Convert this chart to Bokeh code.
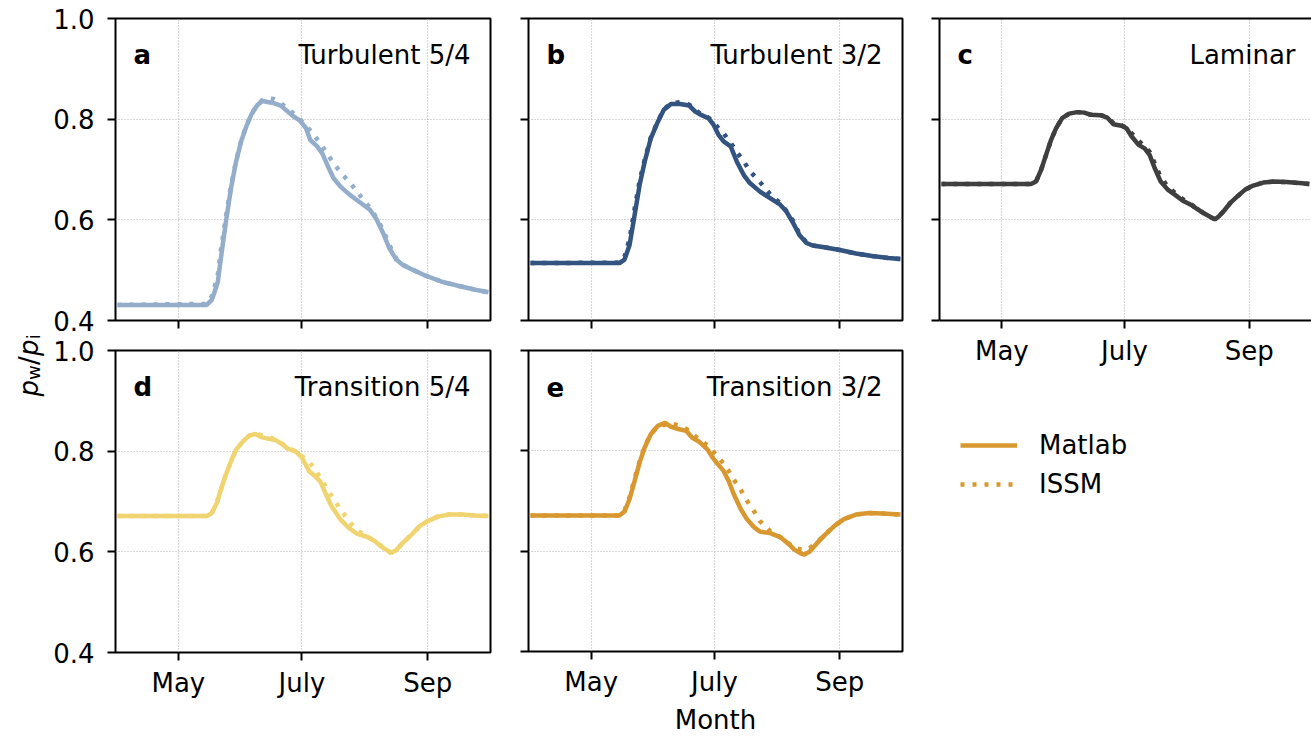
from math import pi

from bokeh.embed import file_html
from bokeh.layouts import column, row
from bokeh.models import FixedTicker, Label, Legend, LegendItem, LinearAxis, Range1d
from bokeh.plotting import figure
from bokeh.resources import INLINE

# ---------------------------------------------------------------- data
# time axis: day of year (non-leap), April to September
month_ticks = [121, 182, 244]
month_labels = ["May", "July", "Sep"]
value_ticks = [0.4, 0.6, 0.8, 1.0]
value_labels = ["0.4", "0.6", "0.8", "1.0"]

# a: Turbulent 5/4
days_a = [91, 135, 137.5, 139, 140.5, 142, 144.5, 147, 149.5, 152, 154.5, 157, 160,
          162.5, 165, 168, 171.5, 175, 178, 181, 184, 186, 189.5, 192, 194.5, 197.5,
          201, 205.5, 210.5, 215.5, 218.5, 222, 225, 228.5, 231.5, 236.5, 243, 251,
          259, 267.5, 274]
matlab_a = [0.431, 0.431, 0.441, 0.458, 0.477, 0.524, 0.597, 0.663, 0.716, 0.756, 0.785,
            0.809, 0.828, 0.836, 0.834, 0.832, 0.827, 0.815, 0.805, 0.797, 0.782, 0.759,
            0.746, 0.732, 0.709, 0.683, 0.666, 0.650, 0.635, 0.620, 0.603, 0.574, 0.544,
            0.521, 0.511, 0.501, 0.489, 0.477, 0.469, 0.461, 0.456]
issm_a = [0.431, 0.433, 0.448, 0.468, 0.492, 0.540, 0.607, 0.668, 0.718, 0.757, 0.787,
          0.810, 0.829, 0.838, 0.841, 0.840, 0.832, 0.820, 0.811, 0.800, 0.787, 0.778,
          0.760, 0.746, 0.731, 0.713, 0.694, 0.675, 0.649, 0.624, 0.606, 0.580, 0.551,
          0.523, 0.511, 0.501, 0.489, 0.477, 0.469, 0.461, 0.456]

# b: Turbulent 3/2
days_b = [91, 135, 137.5, 140, 142.5, 145, 147.5, 150.5, 154, 157, 160.5, 165, 169.5,
          172.5, 175, 179, 181.5, 184, 186.5, 190, 193, 196.5, 199.5, 204.5, 209.5,
          214.5, 217.5, 221, 224, 227.5, 230.5, 235.5, 244, 252, 260, 268, 274]
matlab_b = [0.514, 0.514, 0.521, 0.550, 0.610, 0.670, 0.716, 0.762, 0.795, 0.819, 0.830,
            0.830, 0.827, 0.815, 0.809, 0.802, 0.789, 0.769, 0.756, 0.746, 0.716, 0.689,
            0.673, 0.656, 0.643, 0.630, 0.617, 0.593, 0.570, 0.554, 0.549, 0.546, 0.540,
            0.533, 0.528, 0.524, 0.522]
issm_b = [0.514, 0.515, 0.527, 0.562, 0.622, 0.678, 0.720, 0.764, 0.796, 0.820, 0.831,
          0.834, 0.829, 0.818, 0.811, 0.803, 0.794, 0.782, 0.772, 0.753, 0.735, 0.716,
          0.697, 0.675, 0.651, 0.633, 0.618, 0.597, 0.572, 0.555, 0.549, 0.546, 0.540,
          0.533, 0.528, 0.524, 0.522]

# c: Laminar
days_c = [91, 135.5, 138, 140.5, 143, 145.5, 148, 151, 154.5, 158.5, 162, 165, 170,
          173.5, 176.5, 180.5, 183, 185.5, 189, 192, 194.5, 197, 200, 203.5, 207, 211,
          215, 218, 221.5, 225, 227, 229, 231.5, 234.5, 238, 242, 246, 251, 256, 262.5,
          269, 274]
matlab_c = [0.671, 0.671, 0.676, 0.699, 0.729, 0.759, 0.782, 0.802, 0.811, 0.814, 0.813,
            0.809, 0.808, 0.803, 0.790, 0.787, 0.782, 0.766, 0.749, 0.742, 0.729, 0.703,
            0.676, 0.660, 0.650, 0.638, 0.630, 0.622, 0.613, 0.605, 0.601, 0.607, 0.618,
            0.633, 0.646, 0.660, 0.668, 0.674, 0.676, 0.675, 0.673, 0.671]
issm_c = [0.671, 0.671, 0.676, 0.699, 0.729, 0.759, 0.782, 0.802, 0.811, 0.814, 0.813,
          0.809, 0.808, 0.804, 0.792, 0.788, 0.783, 0.772, 0.757, 0.746, 0.735, 0.712,
          0.685, 0.666, 0.654, 0.641, 0.631, 0.622, 0.613, 0.605, 0.601, 0.607, 0.618,
          0.633, 0.646, 0.660, 0.668, 0.674, 0.676, 0.675, 0.673, 0.671]

# d: Transition 5/4
days_d = [91, 135, 137.5, 140, 142, 144.5, 147, 149.5, 153, 156, 159, 162, 165, 169,
          172.5, 175, 179, 182, 185.5, 188.5, 191, 193.5, 196.5, 201, 205, 209, 214, 218,
          222, 226, 228.5, 231.5, 236, 240, 244, 249, 254.5, 261, 267.5, 274]
matlab_d = [0.671, 0.671, 0.677, 0.697, 0.724, 0.754, 0.780, 0.803, 0.820, 0.831, 0.834,
            0.828, 0.825, 0.822, 0.813, 0.805, 0.799, 0.787, 0.760, 0.750, 0.740, 0.717,
            0.691, 0.664, 0.648, 0.636, 0.630, 0.621, 0.608, 0.598, 0.603, 0.617, 0.634,
            0.651, 0.661, 0.670, 0.674, 0.674, 0.672, 0.671]
issm_d = [0.671, 0.671, 0.677, 0.697, 0.724, 0.754, 0.780, 0.803, 0.820, 0.831, 0.834,
          0.832, 0.829, 0.823, 0.814, 0.806, 0.800, 0.790, 0.779, 0.763, 0.748, 0.731,
          0.712, 0.684, 0.662, 0.643, 0.631, 0.621, 0.608, 0.598, 0.603, 0.617, 0.634,
          0.651, 0.661, 0.670, 0.674, 0.674, 0.672, 0.671]

# e: Transition 3/2
days_e = [91, 135, 137.5, 140, 142.5, 145, 147.5, 150.5, 154, 157.5, 160.5, 164.5, 168,
          171, 174.5, 178.5, 181, 183.5, 186.5, 189, 191.5, 195, 198, 201.5, 204.5,
          209.5, 214.5, 218.5, 221.5, 225, 226.5, 229, 232.5, 236.5, 241.5, 246, 252,
          258.5, 265, 274]
matlab_e = [0.671, 0.671, 0.679, 0.704, 0.740, 0.777, 0.807, 0.833, 0.850, 0.856, 0.848,
            0.843, 0.840, 0.826, 0.818, 0.803, 0.787, 0.774, 0.760, 0.740, 0.714, 0.684,
            0.664, 0.648, 0.639, 0.636, 0.628, 0.615, 0.603, 0.595, 0.593, 0.599, 0.615,
            0.632, 0.651, 0.664, 0.673, 0.676, 0.675, 0.673]
issm_e = [0.671, 0.671, 0.681, 0.708, 0.745, 0.780, 0.809, 0.834, 0.849, 0.852, 0.855,
          0.850, 0.844, 0.834, 0.822, 0.811, 0.800, 0.790, 0.774, 0.760, 0.743, 0.722,
          0.701, 0.680, 0.660, 0.640, 0.628, 0.616, 0.607, 0.603, 0.603, 0.606, 0.617,
          0.633, 0.651, 0.664, 0.673, 0.676, 0.675, 0.673]

panel_letters = ["a", "b", "c", "d", "e"]
panel_titles = ["Turbulent 5/4", "Turbulent 3/2", "Laminar", "Transition 5/4", "Transition 3/2"]
panel_colors = ["#93adca", "#335380", "#3f3f3f", "#efd470", "#d8982f"]
series_names = ["Matlab", "ISSM"]

# ---------------------------------------------------------------- style
FONT = "DejaVu Sans"
FS = "26px"
LW = 4.5
DOTS = "4 8"
X0, X1 = 90, 275
Y0, Y1 = 0.4, 1.0


def style_axis(ax, ticks, labels, show_labels):
    ax.ticker = FixedTicker(ticks=ticks)
    ax.axis_line_color = None
    ax.major_tick_line_color = "black"
    ax.major_tick_line_width = 2
    ax.major_tick_in = 0
    ax.major_tick_out = 8
    ax.minor_tick_line_color = None
    ax.major_label_text_font = FONT
    ax.major_label_text_color = "black"
    if show_labels:
        ax.major_label_overrides = dict(zip(ticks, labels))
        ax.major_label_text_font_size = FS
    else:
        ax.major_label_overrides = {t: "" for t in ticks}
        ax.major_label_text_font_size = "0px"
        ax.major_label_standoff = 0


def make_panel(i, days, matlab, issm, width, height, borders, x_labels, y_labels,
               boxed=True, xlabel=None):
    bl, br, bt, bb = borders
    p = figure(width=width, height=height, x_range=Range1d(X0, X1),
               y_range=Range1d(Y0, Y1), output_backend="svg", toolbar_location=None,
               min_border_left=bl, min_border_right=br, min_border_top=bt,
               min_border_bottom=bb, title=None)
    p.background_fill_color = "white"
    p.border_fill_color = "white"

    style_axis(p.xaxis[0], month_ticks, month_labels, x_labels)
    style_axis(p.yaxis[0], value_ticks, value_labels, y_labels)
    p.xaxis[0].major_label_standoff = 7 if x_labels else 0
    p.yaxis[0].major_label_standoff = 13 if y_labels else 0

    p.grid.grid_line_color = "#b0b0b0"
    p.grid.grid_line_width = 1.2
    p.grid.grid_line_dash = "1 2"

    if boxed:
        p.outline_line_color = "black"
        p.outline_line_width = 2
    else:
        # open on the right: draw left, bottom and top spines only
        p.outline_line_color = None
        p.xaxis[0].axis_line_color = "black"
        p.xaxis[0].axis_line_width = 2
        p.yaxis[0].axis_line_color = "black"
        p.yaxis[0].axis_line_width = 2
        top = LinearAxis(ticker=FixedTicker(ticks=[]), major_label_text_font_size="0px",
                         major_tick_out=0, major_tick_in=0, minor_tick_out=0,
                         minor_tick_in=0, major_label_standoff=0,
                         axis_line_color="black", axis_line_width=2)
        p.add_layout(top, "above")

    if xlabel:
        p.xaxis[0].axis_label = xlabel
        p.xaxis[0].axis_label_text_font = FONT
        p.xaxis[0].axis_label_text_font_size = FS
        p.xaxis[0].axis_label_text_font_style = "normal"
        p.xaxis[0].axis_label_text_color = "black"
        p.xaxis[0].axis_label_text_line_height = 1.0
        p.xaxis[0].axis_label_standoff = 5

    color = panel_colors[i]
    p.line(days, matlab, line_color=color, line_width=LW)
    p.line(days, issm, line_color=color, line_width=LW, line_dash=DOTS)

    p.add_layout(Label(x=X0, y=Y1, x_offset=18, y_offset=-36, text=panel_letters[i],
                       text_font=FONT, text_font_size=FS, text_font_style="bold",
                       text_color="black", text_baseline="alphabetic", text_align="left"))
    p.add_layout(Label(x=X1, y=Y1, x_offset=-20 if boxed else -16, y_offset=-36,
                       text=panel_titles[i], text_font=FONT, text_font_size=FS,
                       text_color="black", text_baseline="alphabetic", text_align="right"))
    return p


# columns: label strip 50, then 459 / 411 / 391; rows 335 + 402 (upper c: 380)
pa = make_panel(0, days_a, matlab_a, issm_a, 459, 335, (65, 19, 18, 15), False, True)
pd = make_panel(3, days_d, matlab_d, issm_d, 459, 402, (65, 19, 15, 85), True, True)
pb = make_panel(1, days_b, matlab_b, issm_b, 411, 335, (19, 18, 18, 15), False, False)
pe = make_panel(4, days_e, matlab_e, issm_e, 411, 402, (19, 18, 15, 85), True, False,
                xlabel="Month")
pc = make_panel(2, days_c, matlab_c, issm_c, 391, 380, (19, 0, 18, 60), True, False,
                boxed=False)

# shared y label p_w / p_i, written upward in its own strip (pixel ranges)
py = figure(width=50, height=737, x_range=Range1d(0, 50), y_range=Range1d(0, 737),
            x_axis_location=None, y_axis_location=None, output_backend="svg",
            toolbar_location=None, min_border=0, title=None)
py.grid.visible = False
py.outline_line_color = None
BASE = 28
SUB = 18.2
pieces = [("p", 396, 26, "italic", 0), ("w", 379.5, SUB, "normal", 4.5),
          ("/", 364.4, 26, "normal", 0), ("p", 355.6, 26, "italic", 0),
          ("i", 338.8, SUB, "normal", 4.5)]
for txt, sy, size, style, shift in pieces:
    py.add_layout(Label(x=BASE + shift, y=737 - sy, text=txt, angle=pi / 2,
                        text_font=FONT, text_font_size=f"{size}px", text_font_style=style,
                        text_color="black", text_baseline="alphabetic",
                        text_align="left"))

# legend in the free grid cell; its line renderers share panel e's data but sit
# outside this cell's ranges, so only the legend glyphs show
pl = figure(width=391, height=357, x_range=Range1d(0, 1), y_range=Range1d(0, 1),
            x_axis_location=None, y_axis_location=None, output_backend="svg",
            toolbar_location=None, min_border=0, title=None)
pl.grid.visible = False
pl.outline_line_color = None
r_solid = pl.line(days_e, matlab_e, line_color=panel_colors[4], line_width=LW)
r_dot = pl.line(days_e, issm_e, line_color=panel_colors[4], line_width=LW,
                line_dash=DOTS)
legend = Legend(items=[LegendItem(label=series_names[0], renderers=[r_solid]),
                       LegendItem(label=series_names[1], renderers=[r_dot])],
                location=(21, 238), glyph_width=57, glyph_height=30, label_height=30,
                spacing=9, padding=0, margin=0, border_line_color=None,
                background_fill_alpha=0, label_text_font=FONT, label_text_font_size=FS,
                label_text_color="black", label_standoff=22)
pl.add_layout(legend)

layout = row(py, column(pa, pd), column(pb, pe), column(pc, pl))

open("out.html", "w").write(file_html(layout, INLINE))
